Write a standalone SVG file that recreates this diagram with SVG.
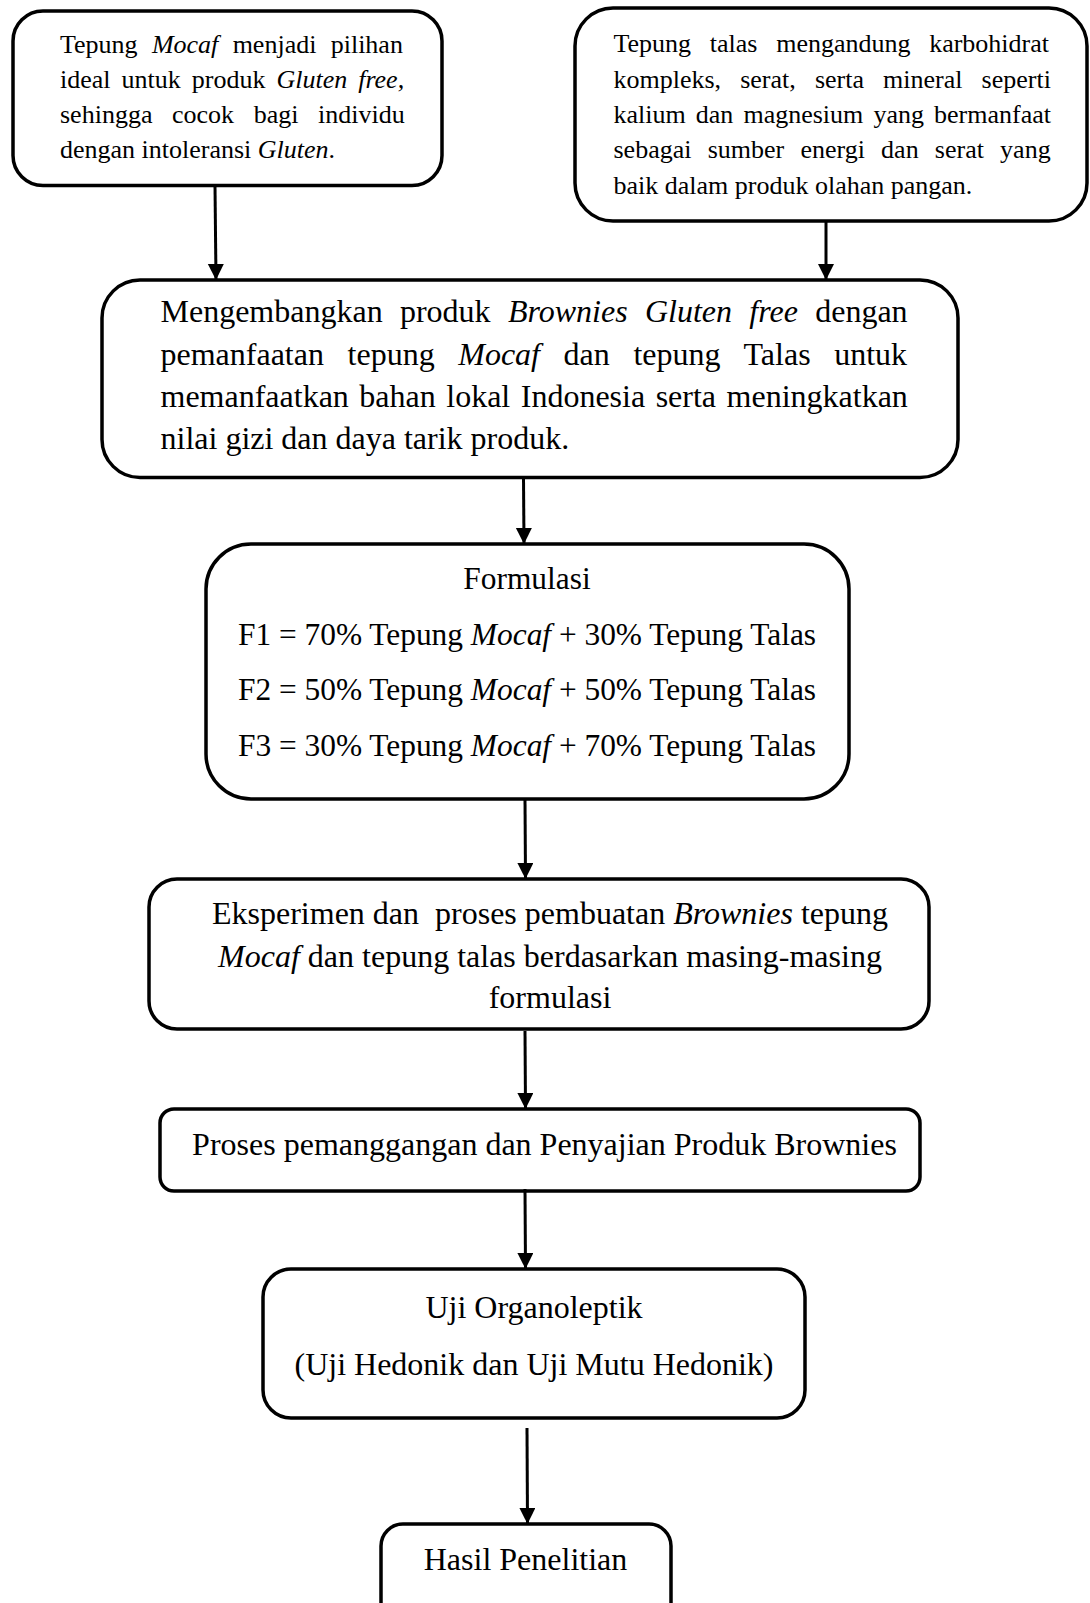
<svg xmlns="http://www.w3.org/2000/svg" width="1090" height="1603" viewBox="0 0 1090 1603">
<style>
.box{fill:#fff;stroke:#000;stroke-width:3.5}
.t{font-family:"Liberation Serif","Times New Roman",serif;fill:#000}
.s26{font-size:26px}
.s31{font-size:31.4px}
.s32{font-size:32px}
.i{font-style:italic}
.c{text-anchor:middle}
.conn{stroke:#000;stroke-width:3;fill:none}
</style>
<defs>
<marker id="ah" markerUnits="userSpaceOnUse" markerWidth="16" markerHeight="18" refX="16" refY="8" orient="auto">
<path d="M0,0 L16,8 L0,16 z" fill="#000"/>
</marker>
</defs>
<rect width="1090" height="1603" fill="#fff"/>

<g id="node-mocaf">
<rect class="box" x="13" y="11" width="429" height="174.5" rx="30"/>
<text class="t s26" x="60" y="53" style="word-spacing:7.8px">Tepung <tspan class="i">Mocaf</tspan> menjadi pilihan</text>
<text class="t s26" x="60" y="88" style="word-spacing:4.5px">ideal untuk produk <tspan class="i">Gluten free,</tspan></text>
<text class="t s26" x="60" y="123" style="word-spacing:13.1px">sehingga cocok bagi individu</text>
<text class="t s26" x="60" y="158">dengan intoleransi <tspan class="i">Gluten</tspan>.</text>
</g>

<g id="node-talas">
<rect class="box" x="575" y="8" width="512" height="213" rx="38"/>
<text class="t s26" x="613.5" y="52" style="word-spacing:12.2px">Tepung talas mengandung karbohidrat</text>
<text class="t s26" x="613.5" y="88" style="word-spacing:12.6px">kompleks, serat, serta mineral seperti</text>
<text class="t s26" x="613.5" y="123" style="word-spacing:3.6px">kalium dan magnesium yang bermanfaat</text>
<text class="t s26" x="613.5" y="158" style="word-spacing:9.7px">sebagai sumber energi dan serat yang</text>
<text class="t s26" x="613.5" y="194">baik dalam produk olahan pangan.</text>
</g>

<g id="node-tujuan">
<rect class="box" x="102" y="280" width="856" height="197.5" rx="38"/>
<text class="t s32" x="160.5" y="322" style="word-spacing:9.3px">Mengembangkan produk <tspan class="i">Brownies Gluten free</tspan> dengan</text>
<text class="t s32" x="160.5" y="365" style="word-spacing:15.6px">pemanfaatan tepung <tspan class="i">Mocaf</tspan> dan tepung Talas untuk</text>
<text class="t s32" x="160.5" y="407" style="word-spacing:2.5px">memanfaatkan bahan lokal Indonesia serta meningkatkan</text>
<text class="t s32" x="160.5" y="449">nilai gizi dan daya tarik produk.</text>
</g>

<g id="node-formulasi">
<rect class="box" x="206" y="544" width="643" height="255" rx="45"/>
<text class="t s31 c" x="527" y="589">Formulasi</text>
<text class="t s31 c" x="527" y="645">F1 = 70% Tepung <tspan class="i">Mocaf</tspan> + 30% Tepung Talas</text>
<text class="t s31 c" x="527" y="700">F2 = 50% Tepung <tspan class="i">Mocaf</tspan> + 50% Tepung Talas</text>
<text class="t s31 c" x="527" y="756">F3 = 30% Tepung <tspan class="i">Mocaf</tspan> + 70% Tepung Talas</text>
</g>

<g id="node-eksperimen">
<rect class="box" x="149" y="879" width="780" height="150" rx="28"/>
<text class="t s32 c" x="550" y="924" xml:space="preserve">Eksperimen dan  proses pembuatan <tspan class="i">Brownies</tspan> tepung</text>
<text class="t s32 c" x="550" y="967"><tspan class="i">Mocaf</tspan> dan tepung talas berdasarkan masing-masing</text>
<text class="t s32 c" x="550" y="1008">formulasi</text>
</g>

<g id="node-pemanggangan">
<rect class="box" x="160" y="1109" width="760" height="82" rx="14"/>
<text class="t s32 c" x="544.5" y="1155">Proses pemanggangan dan Penyajian Produk Brownies</text>
</g>

<g id="node-uji">
<rect class="box" x="263" y="1269" width="542" height="149" rx="28"/>
<text class="t s32 c" x="534" y="1318">Uji Organoleptik</text>
<text class="t s32 c" x="534" y="1375">(Uji Hedonik dan Uji Mutu Hedonik)</text>
</g>

<g id="node-hasil">
<rect class="box" x="381" y="1524" width="290" height="120" rx="22"/>
<text class="t s32 c" x="525.5" y="1570">Hasil Penelitian</text>
</g>

<g id="connectors">
<line class="conn" x1="215" y1="186" x2="216" y2="280" marker-end="url(#ah)"/>
<line class="conn" x1="826" y1="221" x2="826" y2="280" marker-end="url(#ah)"/>
<line class="conn" x1="523.5" y1="478" x2="524" y2="544" marker-end="url(#ah)"/>
<line class="conn" x1="525" y1="800" x2="525.5" y2="879" marker-end="url(#ah)"/>
<line class="conn" x1="525" y1="1031" x2="525.5" y2="1109" marker-end="url(#ah)"/>
<line class="conn" x1="525" y1="1189" x2="525.5" y2="1269" marker-end="url(#ah)"/>
<line class="conn" x1="527" y1="1428" x2="527.5" y2="1524" marker-end="url(#ah)"/>
</g>
</svg>
